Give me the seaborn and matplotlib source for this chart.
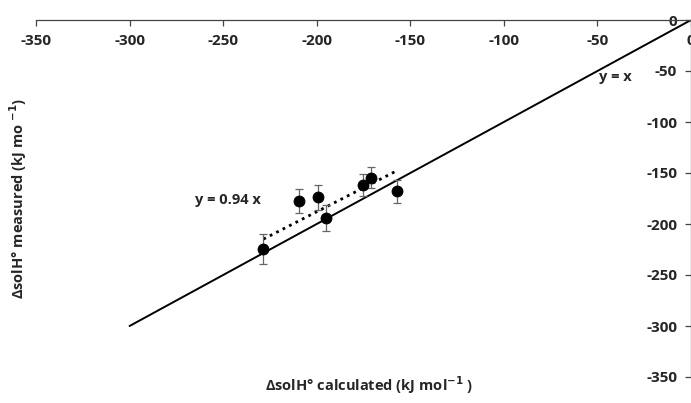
import numpy as np
import pandas as pd
import matplotlib
matplotlib.use('Agg')
import matplotlib.pyplot as plt
import seaborn as sns

# calculated vs measured solution enthalpy (kJ/mol)
calc = [-228.5, -209.5, -199.5, -195.0, -175.5, -171.0, -157.0]
meas = [-224.5, -177.5, -174.0, -194.0, -162.0, -154.5, -168.0]
err = [15, 12, 12.5, 13, 11, 10, 11]
xticks = [-350, -300, -250, -200, -150, -100, -50, 0]
yticks = [-350, -300, -250, -200, -150, -100, -50, 0]

df = pd.DataFrame({'calc': calc, 'meas': meas, 'err': err})

sns.set_theme(style='white')
plt.rcParams['font.family'] = ['Open Sans', 'DejaVu Sans']
plt.rcParams['font.weight'] = 'bold'

fig = plt.figure(figsize=(6.91, 4.03), dpi=100)
ax = fig.add_axes([36 / 691, 26 / 403, 655 / 691, 357 / 403])

# y = x reference line
ax.plot([-300, 0], [-300, 0], color='black', lw=1.4, zorder=2)

# fitted y = 0.94x
fx = np.array([-228.5, -158.0])
ax.plot(fx, 0.94 * fx, color='black', lw=2, ls=(0, (1, 1.6)), zorder=2)

ax.errorbar(df['calc'], df['meas'], yerr=df['err'], fmt='none',
            ecolor='#666666', elinewidth=0.9, capsize=2.8, capthick=0.9, zorder=3)
sns.scatterplot(data=df, x='calc', y='meas', ax=ax, color='black', s=62,
                edgecolor='black', zorder=4, legend=False)

ax.set_xlim(-350, 0)
ax.set_ylim(-350, 0)
ax.set_xticks(xticks)
ax.set_yticks(yticks)
ax.set_xticklabels([str(t) for t in xticks], fontsize=10, fontweight='bold')
ax.set_yticklabels([str(t) for t in yticks], fontsize=10, fontweight='bold')

for s in ['top', 'right']:
    ax.spines[s].set_visible(False)
ax.spines['bottom'].set_position(('data', 0))
ax.spines['left'].set_position(('data', 0))
for s in ['bottom', 'left']:
    ax.spines[s].set_color('#444444')
    ax.spines[s].set_linewidth(0.9)
ax.tick_params(axis='x', bottom=True, direction='out', length=4, width=0.9,
               color='#444444', pad=6)
ax.tick_params(axis='y', left=True, direction='out', length=4, width=0.9,
               color='#444444', pad=6)
ax.set_xlabel('')
ax.set_ylabel('')
ax.grid(False)

ax.text(-265, -176, 'y = 0.94 x', fontsize=10.5, fontweight='bold', va='center', ha='left')
ax.text(-40.5, -56, 'y = x', fontsize=10.5, fontweight='bold', va='center', ha='center')

fig.text(369 / 691, 1 - 385 / 403, 'ΔsolH° calculated (kJ mol$^{\\mathbf{-1}}$ )',
         ha='center', va='center', fontsize=10.5, fontweight='bold')
fig.text(18 / 691, 1 - 198 / 403, 'ΔsolH° measured (kJ mo $^{\\mathbf{-1}}$)',
         ha='center', va='center', rotation=90, fontsize=10.5, fontweight='bold')

fig.savefig('out.png', dpi=100)
